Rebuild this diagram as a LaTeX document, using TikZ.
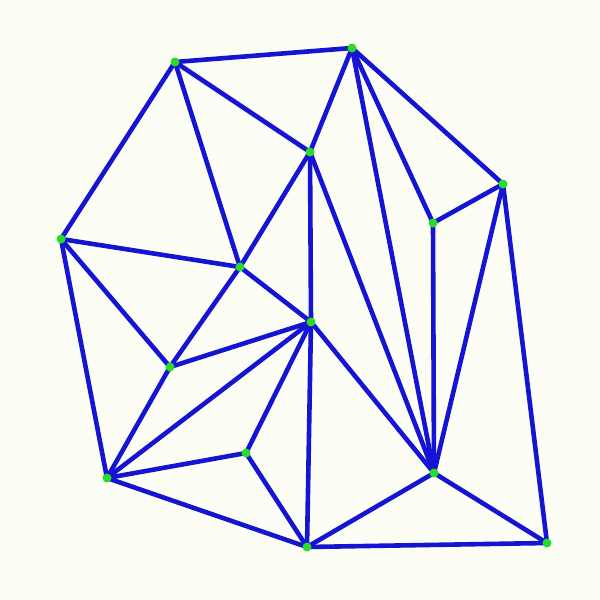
\documentclass[tikz,border=0pt]{standalone}
\definecolor{edgeblue}{RGB}{20,20,210}
\definecolor{dotgreen}{RGB}{40,220,40}
\definecolor{bgpaper}{RGB}{252,254,246}
\begin{document}
\begin{tikzpicture}[x=1pt,y=-1pt,
  edge/.style={draw=edgeblue,line width=4.6pt,line cap=round},
  vert/.style={circle,fill=dotgreen,inner sep=0pt,minimum size=9pt}]
\fill[bgpaper] (0,0) rectangle (600,600);
\useasboundingbox (0,0) rectangle (600,600);
\coordinate (A) at (175,62);
\coordinate (B) at (352,48);
\coordinate (C) at (310,152);
\coordinate (D) at (503,184);
\coordinate (E) at (433,223);
\coordinate (F) at (61,239);
\coordinate (G) at (240,267);
\coordinate (H) at (311,322);
\coordinate (I) at (170,367);
\coordinate (J) at (246,453);
\coordinate (K) at (107,478);
\coordinate (L) at (434,473);
\coordinate (M) at (307,547);
\coordinate (N) at (547,543);
\foreach \a/\b in {A/B,A/C,A/F,A/G,B/C,B/D,B/E,B/L,C/G,C/H,C/L,D/E,D/L,D/N,E/L,F/G,F/I,F/K,G/H,G/I,H/I,H/K,H/J,H/M,H/L,I/K,J/K,J/M,K/M,L/M,L/N,M/N}
  \path[edge] (\a) -- (\b);
\foreach \p in {A,B,C,D,E,F,G,H,I,J,K,L,M,N}
  \node[vert] (n\p) at (\p) {};
\end{tikzpicture}
\end{document}
